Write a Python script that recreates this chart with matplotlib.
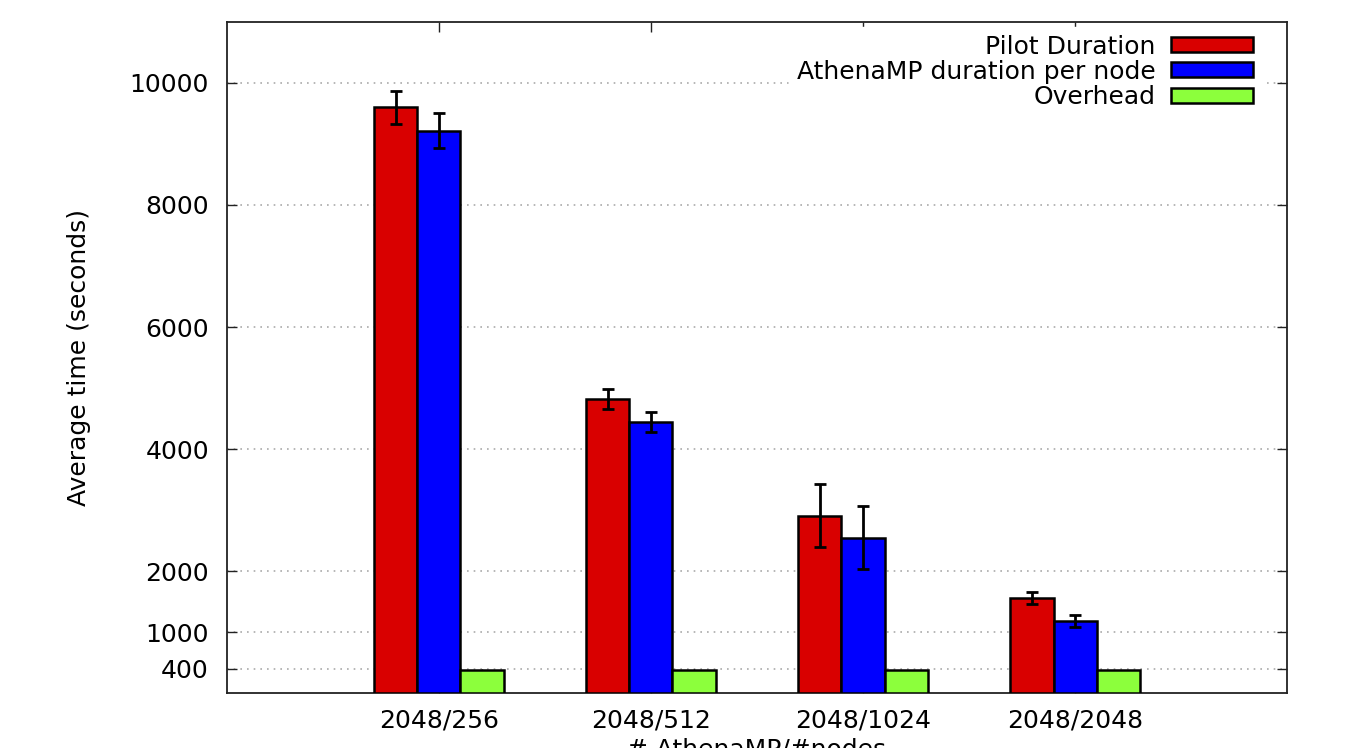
import numpy as np
import matplotlib.pyplot as plt

plt.rcParams['font.family'] = ['DejaVu Sans']

# data
groups = ['2048/256', '2048/512', '2048/1024', '2048/2048']
pilot = [9600, 4820, 2910, 1555]
pilot_err = [270, 160, 520, 95]
athena = [9220, 4445, 2545, 1185]
athena_err = [280, 160, 520, 100]
overhead = [385, 385, 380, 380]
overhead_err = [4, 4, 4, 4]

yticks = [400, 1000, 2000, 4000, 6000, 8000, 10000]

fig = plt.figure(figsize=(13.46, 7.48), dpi=100)
ax = fig.add_axes([0.1686, 0.0735, 0.9562 - 0.1686, 0.9706 - 0.0735])

x = np.arange(len(groups))
w = 0.203
err_kw = dict(ecolor='black', elinewidth=2, capsize=4, capthick=2)
ax.bar(x - w, pilot, w, yerr=pilot_err, color='#d90000', edgecolor='black',
       linewidth=1.8, error_kw=err_kw, label='Pilot Duration', zorder=3)
ax.bar(x, athena, w, yerr=athena_err, color='#0000ff', edgecolor='black',
       linewidth=1.8, error_kw=err_kw, label='AthenaMP duration per node', zorder=3)
ax.bar(x + w, overhead, w, yerr=overhead_err, color='#8cff3c', edgecolor='black',
       linewidth=1.8, error_kw=dict(ecolor='black', elinewidth=1, capsize=0),
       label='Overhead', zorder=3)

ax.set_xlim(-1, 4)
ax.set_ylim(0, 11000)
ax.set_xticks(x)
ax.set_xticklabels(groups)
ax.set_yticks(yticks)
ax.set_yticklabels([str(t) for t in yticks])
ax.tick_params(direction='in', length=7, width=1, labelsize=18, pad=11,
               top=True, right=True, colors='#222222', labelcolor='black')
ax.tick_params(axis='y', pad=13)

for t in yticks:
    ax.axhline(t, color='#aaaaaa', linestyle=(0, (1, 3)), linewidth=1.2, zorder=1)

for s in ax.spines.values():
    s.set_linewidth(1.3)
    s.set_color('#222222')

ax.set_ylabel('Average time (seconds)', fontsize=18, labelpad=28)
ax.set_xlabel('# AthenaMP/#nodes', fontsize=18, labelpad=4)

leg = ax.legend(loc='upper right', bbox_to_anchor=(0.975, 0.9925), fontsize=18,
                frameon=True, framealpha=1, edgecolor='white', markerfirst=False,
                handlelength=3.3, handleheight=0.55, labelspacing=0.05,
                borderpad=0.3, handletextpad=0.6, borderaxespad=0.0,
                fancybox=False)
leg.set_zorder(5)
for t in leg.get_texts():
    t.set_ha('right')

fig.savefig('out.png', dpi=100)
